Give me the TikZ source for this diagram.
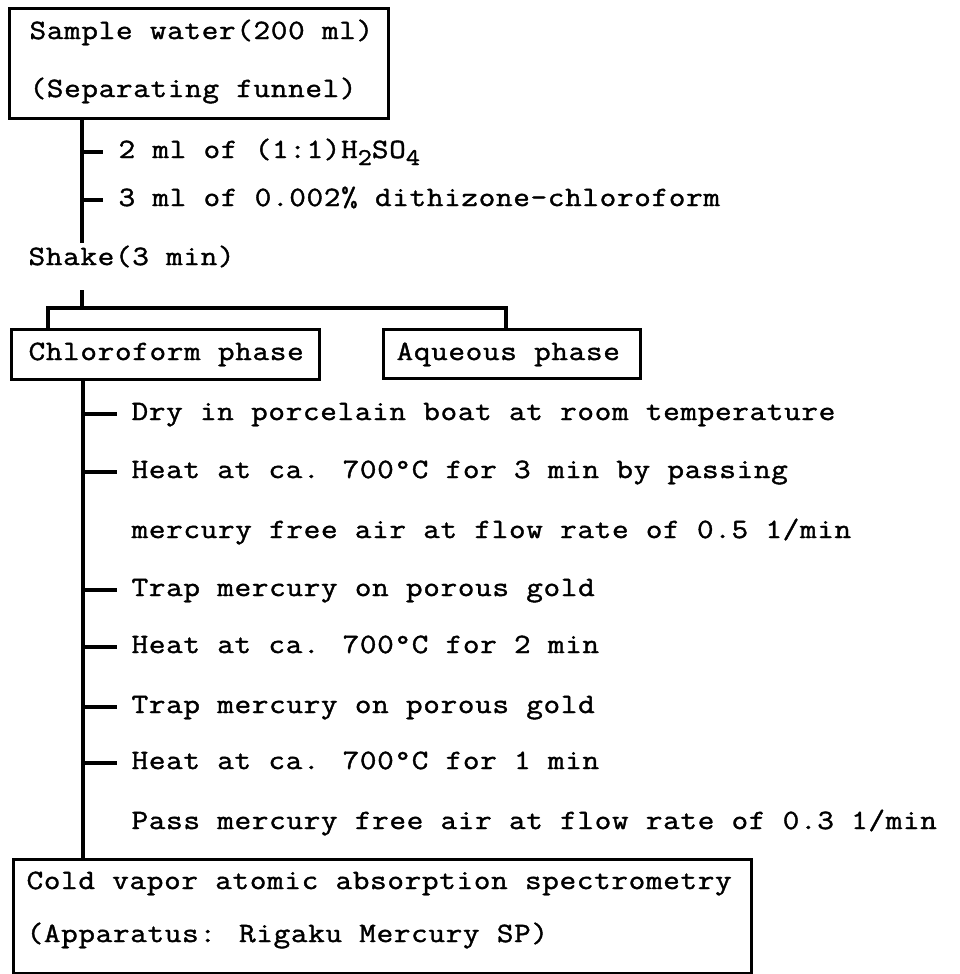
\documentclass[tikz,border=0pt]{standalone}
\usepackage{fontspec}
\newfontfamily\tw[FakeBold=1.4,FakeStretch=1.15,LetterSpace=2.5]{Latin Modern Mono}
\newcommand{\subnum}[1]{\raisebox{-7pt}{\fontsize{24}{24}\selectfont #1}}
\begin{document}
\tw\fontsize{28}{33}\selectfont
\begin{tikzpicture}[x=1pt,y=-1pt,
  line width=3.2pt,
  txt/.style={anchor=mid west,inner sep=0pt},
  box/.style={draw,anchor=north west,inner sep=0pt}]
\useasboundingbox (0,0) rectangle (960,974);
% boxes
\node[box,minimum width=379pt,minimum height=110pt] (b1) at (8,7) {};
\node[box,minimum width=308pt,minimum height=50pt] (chl) at (10,328) {};
\node[box,minimum width=257pt,minimum height=49pt] (aq) at (382,328) {};
\node[box,minimum width=738pt,minimum height=114pt] (bot) at (12,858) {};
% texts
\node[txt] (s1) at (28,33) {Sample water(200 ml)};
\node[txt] (s2) at (28,91) {(Separating funnel)};
\node[txt] (a1) at (117,152) {2 ml of (1:1)H\subnum{2}SO\subnum{4}};
\node[txt] (a2) at (117,200) {3 ml of 0.002\% dithizone-chloroform};
\node[txt] (sh) at (27,259) {Shake(3 min)};
\node[txt] (tc) at (27,354) {Chloroform phase};
\node[txt] (ta) at (395,354) {Aqueous phase};
\node[txt] (d1) at (130,414) {Dry in porcelain boat at room temperature};
\node[txt] (d2) at (130,472) {Heat at ca. 700°C for 3 min by passing};
\node[txt] (d3) at (130,532) {mercury free air at flow rate of 0.5 1/min};
\node[txt] (d4) at (130,590) {Trap mercury on porous gold};
\node[txt] (d5) at (130,647) {Heat at ca. 700°C for 2 min};
\node[txt] (d6) at (130,707) {Trap mercury on porous gold};
\node[txt] (d7) at (130,763) {Heat at ca. 700°C for 1 min};
\node[txt] (d8) at (130,823) {Pass mercury free air at flow rate of 0.3 1/min};
\node[txt] (c1) at (25,883) {Cold vapor atomic absorption spectrometry};
\node[txt] (c2) at (25,936) {(Apparatus: Rigaku Mercury SP)};
% connector coordinates
\coordinate (v1) at (82,0);
\coordinate (v2) at (83,0);
\coordinate (shtop) at (82,243);
\coordinate (shbot) at (82,290);
\coordinate (j) at (82,308);
\coordinate (cA) at (48,328);
\coordinate (cB) at (506,328);
\coordinate (e1) at (103,0);
\coordinate (e2) at (117,0);
% connectors
\draw (v1 |- b1.south) -- (shtop);
\draw (v1 |- a1.mid) -- (e1 |- a1.mid);
\draw (v1 |- a2.mid) -- (e1 |- a2.mid);
\draw (shbot) -- (j);
\draw (cA) -- (cA |- j) -- (cB |- j) -- (cB);
\draw (v2 |- chl.south) -- (v2 |- bot.north);
\foreach \n in {d1,d2,d4,d5,d6,d7}{
  \draw (v2 |- \n.mid) -- (e2 |- \n.mid);
}
\end{tikzpicture}
\end{document}
